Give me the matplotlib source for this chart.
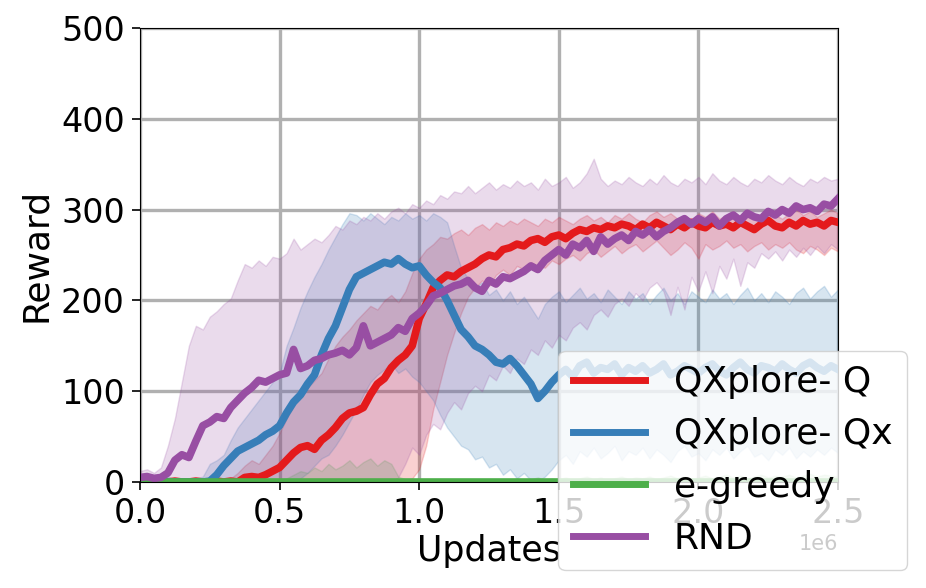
import numpy as np
import matplotlib
matplotlib.use("Agg")
import matplotlib.pyplot as plt

# sample grid: 0 .. 2.5e6 updates, step 0.025e6 (101 samples)
updates = np.linspace(0, 2.5e6, 101)

labels = ["QXplore- Q", "QXplore- Qx", "e-greedy", "RND"]
colors = ["#e41a1c", "#377eb8", "#4daf4a", "#984ea3"]

q_mean = [0, 0, 1, 0, 0, 1, 0, 0, 1, 0, 0, 1, 0, 1, 0, 5, 6, 5, 8, 12,
          16, 24, 32, 38, 40, 36, 46, 52, 60, 70, 76, 78, 82, 96, 108, 114, 126, 134, 140, 150,
          180, 196, 214, 222, 228, 226, 232, 236, 240, 246, 250, 248, 256, 258, 262, 260, 266, 268, 264, 270,
          272, 268, 274, 278, 276, 280, 278, 282, 280, 284, 282, 278, 284, 280, 286, 282, 278, 284, 280, 286,
          282, 280, 286, 282, 284, 280, 286, 282, 278, 284, 288, 282, 280, 286, 282, 288, 284, 286, 282, 288, 286]
q_lo = [0, 0, 0, 0, 0, 0, 0, 0, 0, 0, 0, 0, 0, 0, 0, 0, 0, 0, 0, 0,
        0, 0, 0, 0, 0, 0, 0, 0, 0, 0, 0, 0, 0, 0, 0, 0, 0, 0, 0, 4,
        14, 40, 80, 110, 140, 164, 186, 204, 214, 222, 216, 228, 234, 228, 238, 234, 242, 238, 236, 244,
        240, 246, 250, 244, 252, 256, 248, 254, 260, 252, 258, 262, 254, 260, 266, 258, 250, 256, 264, 258,
        246, 262, 256, 260, 266, 258, 262, 254, 260, 264, 256, 262, 258, 264, 256, 252, 260, 256, 250, 258, 254]
q_hi = [2, 1, 2, 1, 2, 1, 2, 1, 2, 1, 2, 1, 2, 4, 10, 18, 24, 20, 30, 40,
        54, 70, 84, 96, 104, 112, 120, 136, 150, 160, 168, 178, 186, 194, 190, 200, 206, 198, 210, 230,
        246, 256, 262, 270, 268, 274, 278, 272, 280, 284, 278, 286, 282, 288, 284, 290, 286, 282, 290, 286,
        292, 288, 284, 290, 294, 288, 292, 286, 294, 290, 296, 290, 286, 294, 298, 292, 296, 290, 294, 288,
        296, 292, 298, 290, 294, 298, 292, 296, 290, 294, 300, 294, 290, 296, 300, 294, 298, 292, 296, 300, 296]

qx_mean = [2, 3, 1, 0, 0, 0, 0, 0, 0, 0, 1, 8, 18, 26, 34, 38, 42, 46, 52, 56,
           62, 76, 88, 96, 108, 118, 140, 158, 172, 192, 212, 226, 230, 234, 238, 242, 240, 246, 240, 236,
           238, 228, 220, 214, 200, 184, 168, 160, 150, 146, 140, 132, 130, 136, 128, 118, 108, 92, 100, 110,
           118, 124, 116, 128, 132, 120, 126, 124, 130, 118, 126, 122, 128, 120, 124, 130, 118, 122, 128, 124,
           120, 126, 130, 122, 118, 126, 132, 124, 120, 128, 126, 122, 130, 124, 120, 128, 132, 126, 122, 128, 124]
qx_lo = [0, 0, 0, 0, 0, 0, 0, 0, 0, 0, 0, 0, 0, 0, 0, 0, 0, 0, 0, 0,
         0, 0, 0, 4, 10, 18, 26, 30, 40, 52, 66, 80, 96, 110, 118, 124, 130, 120, 125, 116,
         110, 100, 90, 74, 60, 50, 40, 36, 25, 28, 16, 20, 8, 14, 4, 10, 2, 0, 6, 14,
         24, 30, 20, 34, 28, 38, 26, 32, 40, 24, 34, 30, 38, 26, 36, 30, 22, 34, 40, 28,
         32, 24, 36, 30, 38, 26, 34, 40, 28, 32, 24, 36, 30, 38, 26, 34, 28, 36, 30, 38, 32]
qx_hi = [8, 10, 6, 4, 6, 3, 2, 2, 4, 6, 20, 24, 30, 46, 60, 70, 80, 90, 100, 110,
         120, 150, 170, 192, 210, 226, 240, 256, 270, 284, 296, 294, 288, 296, 290, 284, 292, 288, 296, 290,
         294, 288, 296, 292, 286, 260, 236, 224, 214, 220, 206, 212, 200, 210, 196, 204, 192, 180, 196, 204,
         210, 198, 206, 214, 202, 208, 198, 212, 204, 196, 210, 202, 208, 196, 206, 214, 200, 208, 196, 210,
         204, 198, 212, 202, 208, 196, 206, 214, 200, 208, 198, 210, 204, 196, 208, 214, 202, 210, 216, 204, 212]

eg_mean = [0, 0, 0, 0, 0, 0, 0, 0, 0, 0, 0, 0, 0, 0, 0, 0, 0, 0, 0, 0,
           0, 0, 0, 0, 0, 0, 0, 0, 0, 0, 0, 0, 0, 0, 0, 0, 0, 0, 0, 0,
           0, 0, 0, 0, 0, 0, 0, 0, 0, 0, 0, 0, 0, 0, 0, 0, 0, 0, 0, 0,
           0, 0, 0, 0, 0, 0, 0, 0, 0, 0, 0, 0, 0, 0, 0, 0, 0, 0, 0, 0,
           0, 0, 0, 0, 0, 0, 0, 0, 0, 0, 0, 0, 0, 0, 0, 0, 0, 0, 0, 0, 0]
eg_hi = [0, 0, 0, 0, 0, 0, 0, 0, 0, 0, 0, 0, 0, 0, 0, 0, 0, 0, 0, 0,
         2, 4, 8, 12, 10, 16, 12, 20, 14, 18, 24, 16, 22, 26, 18, 24, 20, 6, 3, 2,
         2, 1, 3, 2, 1, 2, 3, 1, 2, 3, 2, 1, 3, 2, 4, 2, 3, 5, 2, 4,
         3, 5, 2, 4, 6, 3, 5, 2, 4, 6, 3, 5, 4, 6, 3, 5, 7, 4, 6, 3,
         5, 7, 4, 6, 8, 5, 7, 4, 6, 8, 5, 7, 6, 8, 5, 7, 9, 6, 8, 7, 6]

rnd_mean = [5, 6, 4, 5, 10, 24, 30, 27, 45, 62, 66, 72, 70, 82, 90, 98, 104, 112, 110, 114,
            118, 120, 146, 125, 128, 134, 136, 140, 142, 145, 140, 148, 172, 150, 154, 158, 162, 170, 166, 180,
            186, 194, 205, 208, 212, 216, 218, 222, 214, 210, 222, 218, 226, 224, 228, 232, 238, 234, 244, 250,
            256, 250, 262, 258, 266, 254, 270, 262, 268, 272, 266, 276, 272, 278, 270, 276, 280, 286, 290, 284,
            290, 286, 292, 282, 290, 294, 288, 296, 292, 290, 298, 294, 300, 296, 304, 300, 302, 298, 306, 304, 312]
rnd_lo = [0, 0, 0, 0, 0, 0, 0, 0, 0, 0, 0, 0, 0, 0, 0, 0, 0, 0, 0, 0,
          0, 0, 0, 0, 0, 0, 0, 0, 0, 0, 0, 0, 0, 0, 0, 2, 0, 5, 20, 38,
          30, 52, 64, 58, 76, 88, 80, 98, 106, 100, 118, 112, 128, 120, 136, 130, 146, 140, 156, 148,
          162, 156, 170, 176, 168, 184, 190, 182, 196, 202, 194, 208, 200, 214, 220, 210, 184, 215, 190, 226,
          210, 232, 208, 238, 224, 246, 216, 242, 236, 252, 246, 254, 244, 256, 248, 258, 250, 260, 252, 262, 256]
rnd_hi = [12, 14, 10, 16, 40, 70, 110, 150, 172, 168, 182, 188, 196, 202, 222, 240, 236, 244, 238, 248,
          246, 252, 268, 256, 262, 268, 264, 272, 282, 278, 288, 284, 292, 288, 296, 290, 298, 302, 296, 306,
          302, 310, 306, 316, 312, 320, 318, 326, 318, 324, 330, 322, 328, 324, 332, 326, 330, 322, 334, 326,
          330, 336, 324, 330, 340, 356, 334, 326, 332, 328, 336, 330, 326, 334, 328, 338, 330, 326, 334, 330,
          336, 328, 340, 332, 328, 336, 330, 326, 334, 330, 338, 332, 328, 336, 330, 326, 334, 330, 336, 332, 334]

means = [q_mean, qx_mean, eg_mean, rnd_mean]
lows = [q_lo, qx_lo, eg_mean, rnd_lo]
highs = [q_hi, qx_hi, eg_hi, rnd_hi]

fig = plt.figure(figsize=(9.26, 5.88), dpi=100)
ax = fig.add_axes([140 / 926, 1 - 482 / 588, 698 / 926, 454 / 588])

for lab, col, m, lo, hi in zip(labels, colors, means, lows, highs):
    ax.fill_between(updates, lo, hi, color=col, alpha=0.2, linewidth=1)
for lab, col, m in zip(labels, colors, means):
    ax.plot(updates, m, color=col, lw=5.5, label=lab)

ax.set_xlim(0, 2.5e6)
ax.set_ylim(0, 500)
ax.set_xticks([0, 0.5e6, 1.0e6, 1.5e6, 2.0e6, 2.5e6])
ax.set_yticks([0, 100, 200, 300, 400, 500])
ax.grid(True, color="#b0b0b0", linewidth=2.4)
ax.set_axisbelow(True)
ax.tick_params(labelsize=24, length=6, width=1.2, pad=5)
ax.xaxis.offsetText.set_fontsize(15)
ax.set_xlabel("Updates", fontsize=25, labelpad=3)
ax.set_ylabel("Reward", fontsize=26, labelpad=6)

leg = ax.legend(loc="lower right", bbox_to_anchor=(907 / 926, 18 / 588),
                bbox_transform=fig.transFigure, borderaxespad=0, fontsize=26,
                framealpha=0.8, labelspacing=0.5, handlelength=2.0, handletextpad=0.8)
for line in leg.get_lines():
    line.set_linewidth(5)

fig.savefig("out.png", dpi=100)
